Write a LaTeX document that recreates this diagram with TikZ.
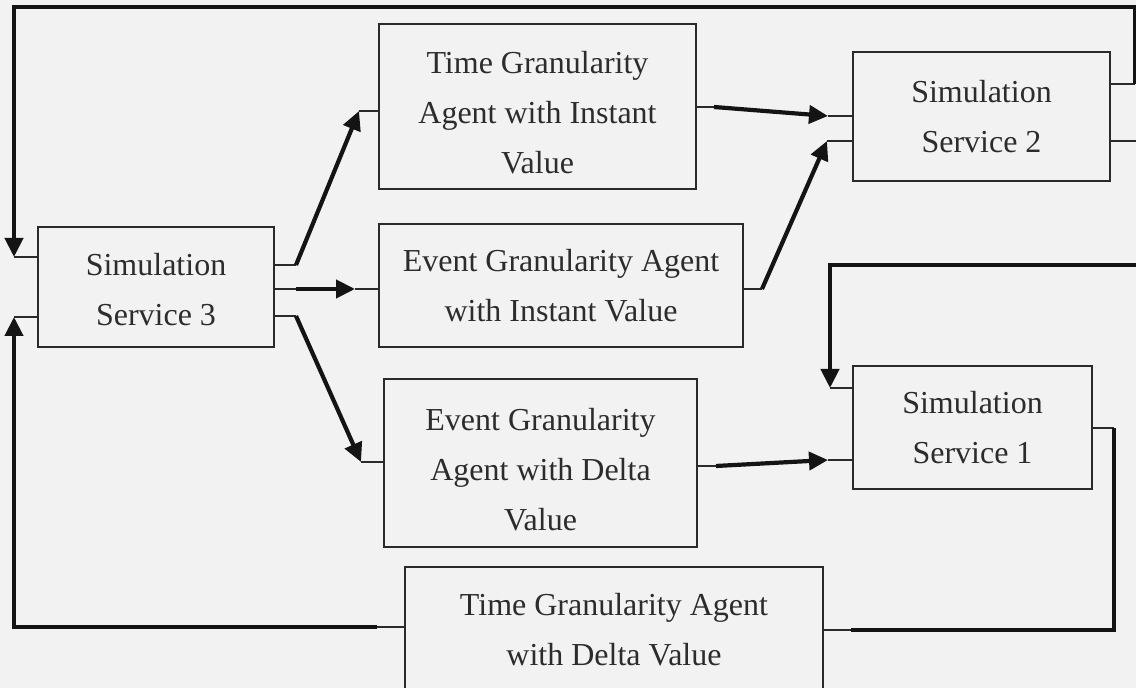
\documentclass[tikz,border=0pt]{standalone}
\usepackage{fontspec}
\setmainfont{Liberation Serif}
\usetikzlibrary{arrows.meta,calc}
\definecolor{bg}{HTML}{F2F2F2}
\definecolor{ink}{HTML}{141414}
\definecolor{edge}{HTML}{2A2A2A}
\definecolor{txt}{HTML}{2C2C2C}

% invisible strut that lowers a text block inside its box
\newcommand{\lowerby}[1]{\rule{0pt}{#1}}

\begin{document}
\begin{tikzpicture}[x=0.5pt,y=-0.5pt,
  box/.style={draw=edge, line width=1pt, fill=bg, inner sep=0pt, align=center,
              text=txt, font=\fontsize{16}{25}\selectfont},
  port/.style={draw=edge, line width=0.9pt},
  flow/.style={draw=ink, line width=2.1pt, -{Triangle[length=9.5pt,width=9pt]}},
  link/.style={draw=ink, line width=2.1pt, line join=miter}]

\useasboundingbox (0,0) rectangle (1136,688);
\fill[bg] (0,0) rectangle (1136,688);
\clip (0,0) rectangle (1136,688);

% services and agents
\node[box, minimum width=118pt,   minimum height=60pt]   (s3)  at (156,287)    {\lowerby{14pt}Simulation\\Service 3};
\node[box, minimum width=158.5pt, minimum height=82.5pt] (tgi) at (537.5,106.5) {\lowerby{17pt}Time Granularity\\Agent with Instant\\Value};
\node[box, minimum width=182pt,   minimum height=61.5pt] (egi) at (561,285.5)  {Event Granularity Agent\\with Instant Value};
\node[box, minimum width=156.5pt, minimum height=84pt]   (egd) at (540.5,463)  {\lowerby{18pt}Event Granularity\\Agent with Delta\\Value};
\node[box, minimum width=209pt,   minimum height=63pt]   (tgd) at (614,630)    {Time Granularity Agent\\with Delta Value};
\node[box, minimum width=128.5pt, minimum height=64.5pt] (s2)  at (981.5,116.5) {Simulation\\Service 2};
\node[box, minimum width=119.5pt, minimum height=61.5pt] (s1)  at (972.5,427.5) {Simulation\\Service 1};

% short port stubs on the box sides
\draw[port] ($(s3.north west)+(0,31)$)  -- ++(-23,0) coordinate (s3i1);
\draw[port] ($(s3.north west)+(0,91)$)  -- ++(-23,0) coordinate (s3i2);
\draw[port] ($(s3.north east)+(0,39)$)  -- ++(21,0)  coordinate (s3o1);
\draw[port] ($(s3.north east)+(0,63)$)  -- ++(21,0)  coordinate (s3o2);
\draw[port] ($(s3.north east)+(0,90)$)  -- ++(21,0)  coordinate (s3o3);

\draw[port] ($(tgi.north west)+(0,88)$) -- ++(-19,0) coordinate (tgii);
\draw[port] ($(tgi.north east)+(0,84)$) -- ++(17,0)  coordinate (tgio);
\draw[port] ($(egi.north west)+(0,66)$) -- ++(-23,0) coordinate (egii);
\draw[port] ($(egi.north east)+(0,66)$) -- ++(18,0)  coordinate (egio);
\draw[port] ($(egd.north west)+(0,84)$) -- ++(-22,0) coordinate (egdi);
\draw[port] ($(egd.north east)+(0,88)$) -- ++(18,0)  coordinate (egdo);
\draw[port] ($(tgd.north west)+(0,61)$) -- ++(-27,0) coordinate (tgdo);
\draw[port] ($(tgd.north east)+(0,64)$) -- ++(27,0)  coordinate (tgdi);

\draw[port] ($(s2.north west)+(0,65)$)  -- ++(-24,0) coordinate (s2i1);
\draw[port] ($(s2.north west)+(0,90)$)  -- ++(-25,0) coordinate (s2i2);
\draw[port] ($(s2.north east)+(0,33)$)  -- ++(24,0)  coordinate (s2o1);
\draw[port] ($(s2.north east)+(0,90)$)  -- ++(28,0)  coordinate (s2o2);

\draw[port] ($(s1.north west)+(0,23)$)  -- ++(-22,0) coordinate (s1i1);
\draw[port] ($(s1.north west)+(0,95)$)  -- ++(-24,0) coordinate (s1i2);
\draw[port] ($(s1.north east)+(0,63)$)  -- ++(21,0)  coordinate (s1o);

\coordinate (feed) at (1140,265);

% flows between the boxes
\draw[flow] (s3o1) -- (tgii);
\draw[flow] (s3o2) -- (egii);
\draw[flow] (s3o3) -- (egdi);
\draw[flow] (tgio) -- (s2i1);
\draw[flow] (egio) -- (s2i2);
\draw[flow] (egdo) -- (s1i2);

% feedback loops
\draw[flow, line join=miter] (s2o1) -- ++(0,-77) -| (s3i1);
\draw[flow, line join=miter] (tgdo) -| (s3i2);
\draw[flow, line join=miter] (feed) -| (s1i1);
\draw[link] (s1o) |- (tgdi);

\end{tikzpicture}
\end{document}
